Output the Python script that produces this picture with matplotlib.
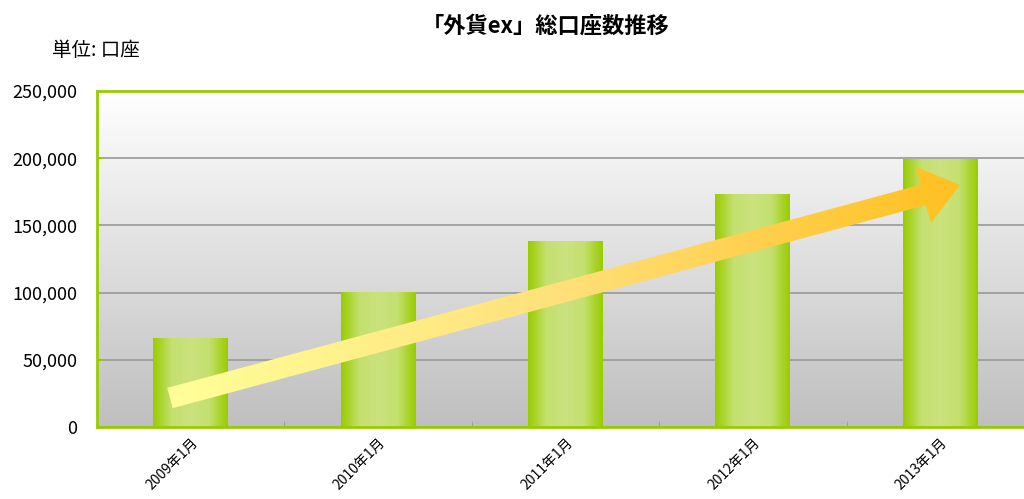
import numpy as np
import matplotlib
matplotlib.use('Agg')
import matplotlib.pyplot as plt
from matplotlib.colors import LinearSegmentedColormap
from matplotlib.patches import Polygon

plt.rcParams['font.family'] = ['Noto Sans CJK JP', 'DejaVu Sans']

# data
months = ['2009年1月', '2010年1月', '2011年1月', '2012年1月', '2013年1月']
accounts = [66000, 100500, 138500, 173500, 199500]
y_ticks = [0, 50000, 100000, 150000, 200000, 250000]

W, H = 1024, 499
fig = plt.figure(figsize=(W / 100, H / 100), dpi=100)
# axes box in pixels: left 97, top 91, bottom 427, runs past the right edge
ax_l, ax_t, ax_b, ax_r = 97, 91, 427, 1034
ax = fig.add_axes([ax_l / W, 1 - ax_b / H, (ax_r - ax_l) / W, (ax_b - ax_t) / H])

# background gradient white (top) -> grey (bottom)
bg = LinearSegmentedColormap.from_list('bg', ['#ffffff', '#bfbfbf'])
ax.imshow(np.linspace(0, 1, 256).reshape(-1, 1), cmap=bg, aspect='auto', origin='upper',
          extent=[-0.5, 4.5, 0, 250000], zorder=0)

for y in y_ticks[:-1]:
    ax.axhline(y, color='#999999', lw=1.2, zorder=1)

# bars with horizontal green gradient
bar_cm = LinearSegmentedColormap.from_list('bar', ['#99cc00', '#c4e070', '#cbe27e', '#c4e070', '#99cc00'])
bars = ax.bar(range(len(months)), accounts, width=0.4, color='none', zorder=2)
grad = np.linspace(0, 1, 200).reshape(1, -1)
for b in bars:
    x0 = b.get_x()
    im = ax.imshow(grad, cmap=bar_cm, aspect='auto',
                   extent=[x0, x0 + b.get_width(), 0, b.get_height()], zorder=2)
    im.set_clip_path(b)

# spines
for s in ['top', 'left', 'bottom']:
    ax.spines[s].set_color('#99cc00')
    ax.spines[s].set_linewidth(2)
    ax.spines[s].set_zorder(5)
ax.spines['right'].set_visible(False)

ax.set_yticks(y_ticks)
ax.set_yticklabels(['{:,}'.format(v) for v in y_ticks], fontsize=13)
ax.tick_params(axis='y', direction='in', length=4, color='#99cc00', pad=14)
ax.set_xticks(range(len(months)))
ax.set_xticklabels(months, rotation=45, ha='right', rotation_mode='anchor', fontsize=10)
ax.tick_params(axis='x', length=0, pad=6)
ax.set_xticks([0.5, 1.5, 2.5, 3.5], minor=True)
ax.tick_params(axis='x', which='minor', direction='in', length=4, color='#999999')

# trend arrow, shaped in pixel space then mapped to axes fraction
tail = np.array([170.0, 398.0])
tip = np.array([960.0, 185.0])
shaft_w, head_w, head_len = 21.0, 58.0, 38.0
d = tip - tail
u = d / np.hypot(*d)
n = np.array([u[1], -u[0]])
base = tip - u * head_len
pts_px = [tail + n * shaft_w / 2, base + n * shaft_w / 2, base + n * head_w / 2, tip,
          base - n * head_w / 2, base - n * shaft_w / 2, tail - n * shaft_w / 2]
pts = [((p[0] - ax_l) / (ax_r - ax_l), (ax_b - p[1]) / (ax_b - ax_t)) for p in pts_px]
arrow = Polygon(pts, closed=True, transform=ax.transAxes, facecolor='none', edgecolor='none', zorder=4)
ax.add_patch(arrow)
arr_cm = LinearSegmentedColormap.from_list('arr', ['#ffff99', '#ffe07a', '#ffc020'])
xs = [p[0] for p in pts]
aim = ax.imshow(np.linspace(0, 1, 256).reshape(1, -1), cmap=arr_cm, aspect='auto',
                transform=ax.transAxes, extent=[min(xs), max(xs), 0, 1], zorder=4)
aim.set_clip_path(arrow)

ax.set_xlim(-0.5, 4.5)
ax.set_ylim(0, 250000)

fig.text(546 / W, 1 - 26 / H, '「外貨ex」総口座数推移', ha='center', va='center', fontsize=16, fontweight='bold')
fig.text(52 / W, 1 - 50 / H, '単位: 口座', ha='left', va='center', fontsize=14)

fig.savefig('out.png', dpi=100)
